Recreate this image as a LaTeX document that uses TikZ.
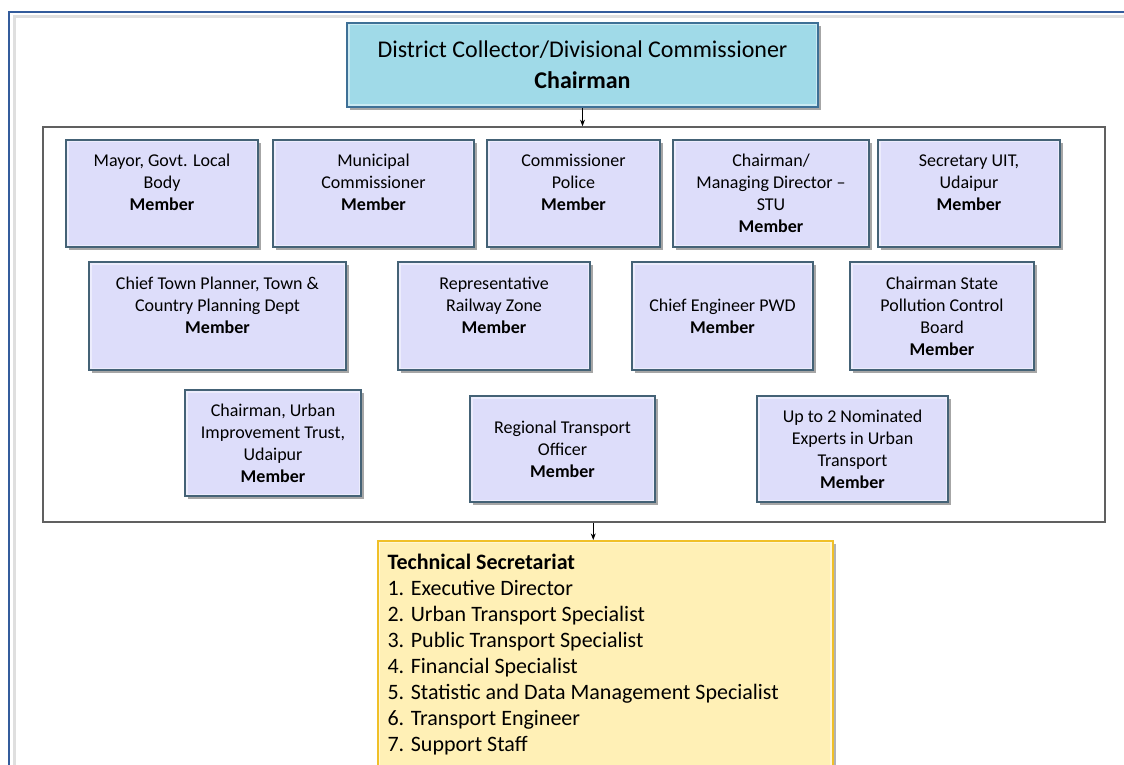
\documentclass[tikz,border=0pt]{standalone}
\usepackage{fontspec}
\setmainfont{Carlito}
\usepackage{tikz}
\usetikzlibrary{positioning}
\usetikzlibrary{shadows}
\usetikzlibrary{arrows.meta}
\definecolor{chairfill}{RGB}{160,218,232}
\definecolor{chairedge}{RGB}{62,112,150}
\definecolor{memfill}{RGB}{221,221,250}
\definecolor{memedge}{RGB}{68,98,118}
\definecolor{techfill}{RGB}{255,240,182}
\definecolor{techedge}{RGB}{240,192,40}
\definecolor{framblue}{RGB}{52,92,156}
\tikzstyle{bevel} = [path picture={\draw[white, line width=5pt, opacity=0.45] (path picture bounding box.south west) rectangle (path picture bounding box.north east);}]
\tikzstyle{chairbox} = [rectangle, draw=chairedge, line width=1.5pt, fill=chairfill, bevel, align=center, drop shadow={shadow xshift=3pt, shadow yshift=-3pt, fill=gray!70, opacity=1}, font=\fontsize{24}{31}\selectfont]
\tikzstyle{member} = [rectangle, draw=memedge, line width=1.5pt, fill=memfill, bevel, align=center, drop shadow={shadow xshift=3pt, shadow yshift=-3pt, fill=gray!70, opacity=1}, font=\fontsize{18}{22}\selectfont]
\tikzstyle{techbox} = [rectangle, draw=techedge, line width=1.5pt, fill=techfill, bevel, drop shadow={shadow xshift=3pt, shadow yshift=-3pt, fill=gray!60, opacity=1}]
\tikzstyle{arrow} = [thick,->,>=Stealth]

\begin{document}
\begin{tikzpicture}[x=1pt, y=-1pt]
\useasboundingbox (0,0) rectangle (1124,765);
\fill[white] (0,0) rectangle (1124,765);
% outer frame
\draw[gray!25, line width=3pt] (14,765) -- (14,17) -- (1124,17);
\draw[framblue, line width=2pt] (9,765) -- (9,12) -- (1124,12);
% members panel
\node (board) [rectangle, draw=gray!75!black, line width=1.5pt, minimum width=1062pt, minimum height=395pt] at (574,324.5) {};
\node (chair) [chairbox, minimum width=471pt, minimum height=84pt] at (582.5,65) {District Collector/Divisional Commissioner\\\textbf{Chairman}};
% row 1
\node (mayor) [member, minimum width=192pt, minimum height=107pt] at (162,193.5) {Mayor, Govt. Local\\Body\\\textbf{Member}\\~};
\node (munic) [member, minimum width=201pt, minimum height=107pt] at (373.5,193.5) {Municipal\\Commissioner\\\textbf{Member}\\~};
\node (police) [member, minimum width=173pt, minimum height=107pt] at (573.5,193.5) {Commissioner\\Police\\\textbf{Member}\\~};
\node (stu) [member, minimum width=196pt, minimum height=107pt] at (771,193.5) {Chairman/\\Managing Director --\\STU\\\textbf{Member}};
\node (uitsec) [member, minimum width=182pt, minimum height=107pt] at (969,193.5) {Secretary UIT,\\Udaipur\\\textbf{Member}\\~};
% row 2
\node (planner) [member, minimum width=257pt, minimum height=108pt] at (217.5,316) {Chief Town Planner, Town \&\\Country Planning Dept\\\textbf{Member}\\~};
\node (rail) [member, minimum width=192pt, minimum height=108pt] at (494,316) {Representative\\Railway Zone\\\textbf{Member}\\~};
\node (pwd) [member, minimum width=181pt, minimum height=108pt] at (722.5,316) {Chief Engineer PWD\\\textbf{Member}};
\node (pollution) [member, minimum width=184pt, minimum height=108pt] at (942,316) {Chairman State\\Pollution Control\\Board\\\textbf{Member}};
% row 3
\node (uit) [member, minimum width=176pt, minimum height=106pt] at (273,443) {Chairman, Urban\\Improvement Trust,\\Udaipur\\\textbf{Member}};
\node (rto) [member, minimum width=185pt, minimum height=106pt] at (562.5,449) {Regional Transport\\Officer\\\textbf{Member}};
\node (experts) [member, minimum width=191pt, minimum height=106pt] at (852.5,449) {Up to 2 Nominated\\Experts in Urban\\Transport\\\textbf{Member}};
% technical secretariat
\node (tech) [techbox, minimum width=455pt, minimum height=240pt, anchor=north west] at (377,540) {};
\node (techtext) [anchor=north west, align=left, font=\fontsize{22}{26}\selectfont] at (384,551) {\textbf{Technical Secretariat}\\1. Executive Director\\2. Urban Transport Specialist\\3. Public Transport Specialist\\4. Financial Specialist\\5. Statistic and Data Management Specialist\\6. Transport Engineer\\7. Support Staff};
% connectors
\draw [arrow] (chair.south) -- (chair.south |- board.north);
\draw [arrow] ([xshift=-12pt]tech.north |- board.south) -- ([xshift=-12pt]tech.north);
\end{tikzpicture}
\end{document}
